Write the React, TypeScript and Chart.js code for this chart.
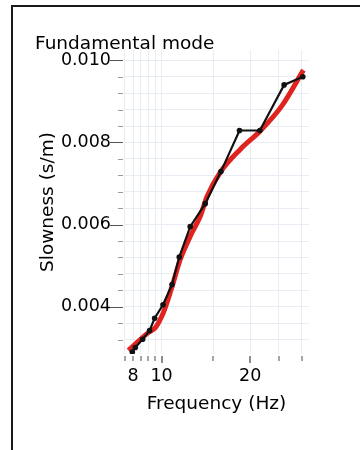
import React, { useEffect, useRef } from 'react';
import { Chart, registerables } from 'chart.js';

Chart.register(...registerables);

// Picked dispersion points (black)
const pickedFreq = [7.95, 8.14, 8.62, 9.1, 9.47, 10.11, 10.85, 11.48, 12.51, 14.07, 15.91, 18.4, 21.58, 26.09, 30.2];
const pickedSlowness = [0.0029, 0.00301, 0.00321, 0.00342, 0.00372, 0.00405, 0.00454, 0.00521, 0.00595, 0.00651, 0.00729, 0.00829, 0.00829, 0.0094, 0.0096];

// Model curve (red)
const modelFreq = [7.71, 9.01, 9.52, 10.13, 10.85, 11.57, 12.68, 13.53, 14.26, 15.82, 18.5, 21.63, 25.63, 30.34];
const modelSlowness = [0.00294, 0.00337, 0.00349, 0.00385, 0.00449, 0.00515, 0.0058, 0.0062, 0.00668, 0.00727, 0.00783, 0.00828, 0.00889, 0.00976];

const xTickValues = [7.5, 8, 8.5, 9, 9.5, 10, 15, 20, 25, 30];
const xTickLabels = ['', '8', '', '', '', '10', '', '20', '', ''];
const xMajorTicks = [10, 20];

const yTickValues = [0.0032, 0.0036, 0.004, 0.0044, 0.0048, 0.0052, 0.0056, 0.006, 0.0064, 0.0068, 0.0072, 0.0076, 0.008, 0.0084, 0.0088, 0.0092, 0.0096, 0.01];
const yTickLabels = ['', '', '0.004', '', '', '', '', '0.006', '', '', '', '', '0.008', '', '', '', '', '0.010'];

const FONT = "'DejaVu Sans', Verdana, sans-serif";

const tickMarks = {
  id: 'tickMarks',
  afterDraw(chart: any) {
    const { ctx, chartArea, scales } = chart;
    const ys = scales.y;
    const xs = scales.x;
    ctx.save();
    ys.ticks.forEach((t: any, i: number) => {
      const py = Math.round(ys.getPixelForValue(t.value)) + 0.5;
      const major = yTickLabels[i] !== '';
      ctx.strokeStyle = major ? '#555' : '#999';
      ctx.lineWidth = 1;
      ctx.beginPath();
      ctx.moveTo(chartArea.left - (major ? 14 : 6), py);
      ctx.lineTo(chartArea.left - 1, py);
      ctx.stroke();
    });
    xs.ticks.forEach((t: any) => {
      const px = Math.round(xs.getPixelForValue(t.value));
      const major = xMajorTicks.includes(t.value);
      ctx.strokeStyle = major ? '#666' : '#888';
      ctx.lineWidth = 1.5;
      ctx.beginPath();
      ctx.moveTo(px, chartArea.bottom + 2);
      ctx.lineTo(px, chartArea.bottom + (major ? 9 : 7));
      ctx.stroke();
    });
    ctx.restore();
  },
};

export default function App() {
  const canvasRef = useRef<HTMLCanvasElement | null>(null);

  useEffect(() => {
    if (!canvasRef.current) return;
    const chart = new Chart(canvasRef.current, {
      type: 'line',
      data: {
        datasets: [
          {
            label: 'Picked',
            data: pickedFreq.map((f, i) => ({ x: f, y: pickedSlowness[i] })),
            borderColor: '#111',
            backgroundColor: '#111',
            borderWidth: 2.2,
            pointRadius: 2.8,
            pointBackgroundColor: '#111',
            pointBorderWidth: 0,
            tension: 0,
            order: 1,
          },
          {
            label: 'Model',
            data: modelFreq.map((f, i) => ({ x: f, y: modelSlowness[i] })),
            borderColor: '#e0231f',
            borderWidth: 5,
            pointRadius: 0,
            cubicInterpolationMode: 'monotone',
            order: 2,
          },
        ],
      },
      options: {
        animation: false,
        responsive: true,
        maintainAspectRatio: false,
        layout: { padding: { left: 35, right: 51, top: 0, bottom: 0 } },
        plugins: {
          legend: { display: false },
          tooltip: { enabled: false },
          title: {
            display: true,
            text: 'Fundamental mode',
            align: 'start',
            color: '#000',
            font: { family: FONT, size: 18.5, weight: 'normal' },
            padding: { top: 33, bottom: -5.2 },
          },
        },
        scales: {
          x: {
            type: 'logarithmic',
            min: 7.45,
            max: 31.7,
            afterBuildTicks: (scale: any) => {
              scale.ticks = xTickValues.map((v) => ({ value: v }));
            },
            afterFit: (scale: any) => {
              scale.height = 96;
            },
            border: { display: false },
            grid: { color: '#e7edf3', lineWidth: 1, drawTicks: false },
            ticks: {
              autoSkip: false,
              maxRotation: 0,
              padding: 12,
              color: '#000',
              font: { family: FONT, size: 17.5 },
              callback: (_v: any, i: number) => xTickLabels[i],
            },
            title: {
              display: true,
              text: 'Frequency (Hz)',
              color: '#000',
              font: { family: FONT, size: 18.5 },
              padding: { top: 4, bottom: 35 },
            },
          },
          y: {
            type: 'linear',
            min: 0.00285,
            max: 0.01025,
            afterBuildTicks: (scale: any) => {
              scale.ticks = yTickValues.map((v) => ({ value: v }));
            },
            afterFit: (scale: any) => {
              scale.width = 89;
            },
            border: { display: false },
            grid: { color: '#e7edf3', lineWidth: 1, drawTicks: false },
            ticks: {
              autoSkip: false,
              padding: 13,
              color: '#000',
              font: { family: FONT, size: 17.5 },
              callback: (_v: any, i: number) => yTickLabels[i],
            },
            title: {
              display: true,
              text: 'Slowness (s/m)',
              color: '#000',
              font: { family: FONT, size: 18.5 },
              padding: { top: 2, bottom: 0 },
            },
          },
        },
      },
      plugins: [tickMarks],
    } as any);
    return () => chart.destroy();
  }, []);

  return (
    <div style={{ position: 'absolute', left: 0, top: 0, width: 360, height: 450, overflow: 'hidden', background: '#fff' }}>
      <div
        style={{
          position: 'absolute',
          left: 11,
          top: 5,
          width: 349,
          height: 445,
          borderLeft: '2px solid #1a1a1a',
          borderTop: '2px solid #1a1a1a',
          boxSizing: 'border-box',
        }}
      />
      <div style={{ position: 'absolute', left: 0, top: 0, width: 360, height: 450 }}>
        <canvas ref={canvasRef} />
      </div>
    </div>
  );
}
